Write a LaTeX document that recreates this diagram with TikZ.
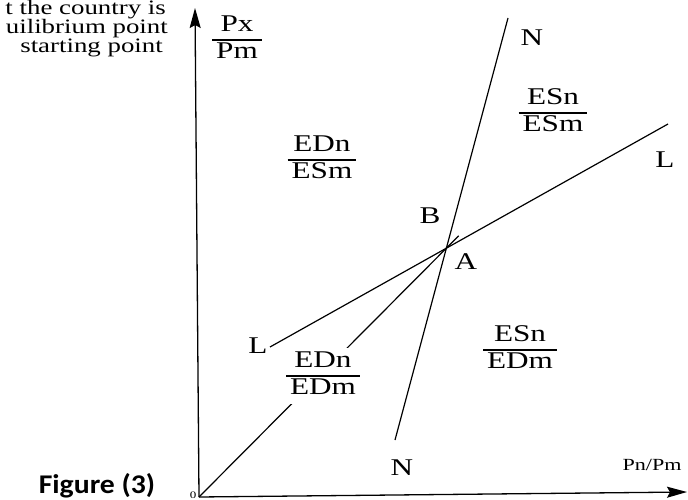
\documentclass[tikz,border=0pt]{standalone}
\usepackage{fontspec}
\setmainfont{Liberation Serif}[FakeStretch=1.3]
\newfontfamily\parafont{Liberation Serif}[FakeStretch=1.31]
\newfontfamily\figfont{Carlito}[FakeStretch=1.1]
\usetikzlibrary{arrows.meta,intersections,calc}
\newcommand\myfrac[2]{{\setlength\arrayrulewidth{1.1pt}\renewcommand\arraystretch{0.95}\begin{tabular}{@{\,}c@{\,}}#1\\\hline #2\end{tabular}}}
\begin{document}
\begin{tikzpicture}[x=1pt,y=-1pt,
  lbl/.style={font=\fontsize{24}{27}\selectfont, inner sep=0pt},
  para/.style={font=\parafont\fontsize{20.5}{24}\selectfont, inner sep=0pt, anchor=base east},
  ln/.style={line width=1.2pt},
  axis/.style={line width=1.3pt, -{Stealth[length=20pt,width=11pt,inset=3pt]}}]
\useasboundingbox (0,0) rectangle (688,500);
\clip (0,0) rectangle (688,500);
% top-left paragraph fragment
\node[para] (p1) at (166,15) {t the country is};
\node[para] (p2) at (168,34) {uilibrium point};
\node[para] (p3) at (163,53) {starting point};
% key points
\coordinate (O) at (199,497);
\coordinate (ytop) at (195,8);
\coordinate (xend) at (687,492);
\coordinate (L1) at (270,347);
\coordinate (L2) at (668,124);
\coordinate (N1) at (508,18);
\coordinate (N2) at (395,440);
% axes
\draw[axis] (O) -- (ytop);
\draw[axis] (O) -- (xend);
% lines
\draw[ln, name path=LL] (L1) -- (L2);
\draw[ln, name path=NN] (N2) -- (N1);
\path[name intersections={of=LL and NN, by=A}];
\draw[ln] (O) -- ($(O)!1.05!(A)$) coordinate (rayend);
% labels
\node[lbl] (pxpm) at (237,40) {\myfrac{Px}{Pm}};
\node[lbl] (ntop) at (532,38) {N};
\node[lbl] (esnesm) at (553,113) {\myfrac{ESn}{ESm}};
\node[lbl] (ednesm) at (322,160) {\myfrac{EDn}{ESm}};
\node[lbl] (lright) at (665,160) {L};
\node[lbl] (B) at (430,216) {B};
\node[lbl] (Alab) at (466,262) {A};
\node[lbl] (lleft) at (258,346) {L};
\node[lbl, fill=white, inner sep=2pt] (edneds) at (323,376) {\myfrac{EDn}{EDm}};
\node[lbl] (esnedm) at (520,350) {\myfrac{ESn}{EDm}};
\node[lbl] (nbot) at (402,468) {N};
\node[lbl, font=\fontsize{17}{20}\selectfont] (pnpm) at (652,465) {Pn/Pm};
\node[lbl, font=\fontsize{10}{12}\selectfont] (zero) at (193,495) {0};
\node[inner sep=0pt, font=\figfont\bfseries\fontsize{27}{30}\selectfont] (fig) at (97,486) {Figure (3)};
\end{tikzpicture}
\end{document}
